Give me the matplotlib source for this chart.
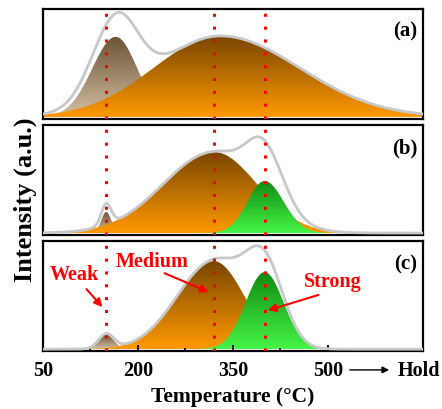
import numpy as np
import matplotlib
matplotlib.use('Agg')
import matplotlib.pyplot as plt
from matplotlib.colors import LinearSegmentedColormap
from matplotlib.transforms import ScaledTranslation

plt.rcParams['font.family'] = ['Liberation Serif', 'DejaVu Serif']
plt.rcParams['font.weight'] = 'bold'

# eje de temperatura (la "Hold" se pinta en 650)
temp = np.linspace(50, 650, 1201)

# parametros de los picos: centro, altura, sigma izq, sigma der
weak_a = [165, 80, 37, 34]
medium_a = [330, 81, 105, 125]

weak_b = [150, 21, 8, 8]
medium_b = [320, 81, 80, 68]
strong_b = [400, 52, 27, 30]

weak_c = [150, 14.5, 12, 12]
medium_c = [320, 88, 58, 48]
strong_c = [400, 77, 30, 30]

panels = [
    ('(a)', [('weak', weak_a), ('medium', medium_a)]),
    ('(b)', [('weak', weak_b), ('medium', medium_b), ('strong', strong_b)]),
    ('(c)', [('weak', weak_c), ('medium', medium_c), ('strong', strong_c)]),
]

ref_lines = [150, 320, 400]
tick_pos = [50, 200, 350, 500, 650]
tick_lab = ['50', '200', '350', '500', 'Hold']

colors = {
    'weak': ('#d4c0a4', '#6b5334'),
    'medium': ('#ff9900', '#784600'),
    'strong': ('#46f446', '#0e8a12'),
}


def peak(x, c, h, sl, sr):
    s = np.where(x < c, sl, sr)
    return h * np.exp(-0.5 * ((x - c) / s) ** 2)


def gradient_fill(ax, x, y, name, top):
    bottom_c, top_c = colors[name]
    cmap = LinearSegmentedColormap.from_list(name, [bottom_c, top_c])
    poly = ax.fill_between(x, 0, y, color='none', lw=0)
    grad = np.linspace(0, 1, 256).reshape(-1, 1)
    im = ax.imshow(grad, cmap=cmap, aspect='auto', origin='lower',
                   extent=[x[0], x[-1], 0, top], zorder=1)
    path = poly.get_paths()[0]
    im.set_clip_path(path, transform=ax.transData)


fig, axes = plt.subplots(3, 1, figsize=(4.42, 4.10), dpi=100, sharex=True)
fig.subplots_adjust(left=0.097, right=0.957, top=0.976, bottom=0.141, hspace=0.055)

for ax, (label, peaks) in zip(axes, panels):
    total = np.zeros_like(temp)
    for name, p in peaks:
        y = peak(temp, *p)
        total += y
        gradient_fill(ax, temp, y, name, p[1])
    ax.plot(temp, total, color='#c8c8c8', lw=2, zorder=3)
    for xv in ref_lines:
        ax.axvline(xv, color='red', lw=2.2, ls=(0, (1, 3.2)), zorder=4)
    ax.set_xlim(50, 650)
    ax.set_ylim(-2, 108)
    ax.set_yticks([])
    ax.text(0.985, 0.8, label, transform=ax.transAxes, ha='right', va='center',
            fontsize=15, fontweight='bold')
    for sp in ax.spines.values():
        sp.set_linewidth(1.6)
    ax.tick_params(axis='x', which='both', length=0)

ax = axes[2]
ax.set_xticks(tick_pos)
ax.set_xticklabels(tick_lab)
ax.set_xticks([125, 275, 425, 575], minor=True)
ax.tick_params(axis='x', which='major', direction='in', length=4.5, width=1.3,
               labelsize=14.5, pad=6)
ax.tick_params(axis='x', which='minor', direction='in', length=2.2, width=1.3)
hold = ax.get_xticklabels()[-1]
hold.set_transform(hold.get_transform() + ScaledTranslation(-0.045, 0, fig.dpi_scale_trans))
ax.set_xlabel('Temperature (°C)', fontsize=15.5, fontweight='bold', labelpad=5)

# flecha entre 500 y Hold
ax.annotate('', xy=(601, -0.17), xytext=(530, -0.17),
            xycoords=ax.get_xaxis_transform(), textcoords=ax.get_xaxis_transform(),
            arrowprops=dict(arrowstyle='-|>', color='black', lw=1, mutation_scale=10),
            annotation_clip=False)

# etiquetas de los picos
arrow = dict(arrowstyle='-|>', color='red', lw=1.5, mutation_scale=12)
ax.text(100, 75, 'Weak', color='red', fontsize=14.5, fontweight='bold', ha='center', va='center')
ax.annotate('', xy=(147, 40), xytext=(116, 62), arrowprops=arrow)
ax.text(223, 88, 'Medium', color='red', fontsize=14.5, fontweight='bold', ha='center', va='center')
ax.annotate('', xy=(316, 56), xytext=(238, 77), arrowprops=arrow)
ax.text(508, 68, 'Strong', color='red', fontsize=14.5, fontweight='bold', ha='center', va='center')
ax.annotate('', xy=(401, 38), xytext=(489, 55), arrowprops=arrow)

fig.text(0.057, 0.512, 'Intensity (a.u.)', rotation=90, ha='center', va='center',
         fontsize=19, fontweight='bold')

fig.savefig('out.png', dpi=100)
